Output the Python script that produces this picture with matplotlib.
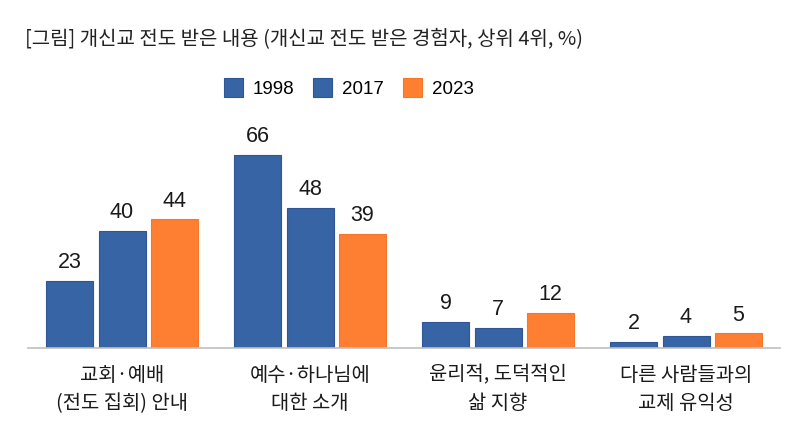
import matplotlib
matplotlib.use("Agg")
import matplotlib.pyplot as plt
import numpy as np

KR = ['Noto Sans CJK KR', 'DejaVu Sans']
NUM = ['Liberation Sans', 'Noto Sans CJK KR', 'DejaVu Sans']
plt.rcParams['font.family'] = KR

title = "[그림] 개신교 전도 받은 내용 (개신교 전도 받은 경험자, 상위 4위, %)"
categories = ["교회·예배\n(전도 집회) 안내", "예수·하나님에\n대한 소개", "윤리적, 도덕적인\n삶 지향", "다른 사람들과의\n교제 유익성"]
series_names = ["1998", "2017", "2023"]
values_1998 = [23, 66, 9, 2]
values_2017 = [40, 48, 7, 4]
values_2023 = [44, 39, 12, 5]
colors = ["#3764A4", "#3764A4", "#FF7F32"]
edges = ["#2F5597", "#2F5597", "#F4772A"]

fig = plt.figure(figsize=(8, 4.36), dpi=100)
ax = fig.add_axes([28/800, 88/436, 752/800, 228/436])

x = np.arange(len(categories))
width = 0.25
offsets = [-0.277, 0, 0.277]
for vals, name, c, e, off in zip([values_1998, values_2017, values_2023], series_names, colors, edges, offsets):
    bars = ax.bar(x + off, vals, width, color=c, edgecolor=e, linewidth=0.8, label=name)
    for b, v in zip(bars, vals):
        ax.text(b.get_x() + b.get_width()/2, v + 4.4, str(v), ha='center', va='baseline',
                fontsize=15.5, color='#1a1a1a', family=NUM)

ax.set_xlim(-0.5, 3.5)
ax.set_ylim(0, 78)
for s in ['top', 'right', 'left']:
    ax.spines[s].set_visible(False)
ax.spines['bottom'].set_color('#BFBFBF')
ax.spines['bottom'].set_linewidth(1.2)
ax.set_yticks([])
ax.set_xticks(x)
ax.set_xticklabels(categories, fontsize=14.3, color='#1a1a1a', linespacing=1.45)
ax.tick_params(axis='x', length=0, pad=12)

fig.text(25/800, 1 - 39/436, title, ha='left', va='center', fontsize=14.4, color='#222222')

fig.legend(loc='center', bbox_to_anchor=(349/800, 1 - 88/436), ncol=3, frameon=False,
           prop={'family': NUM, 'size': 13.5}, handlelength=1.0, handleheight=1.2,
           columnspacing=1.0, handletextpad=0.55)

fig.savefig("out.png", dpi=100)
